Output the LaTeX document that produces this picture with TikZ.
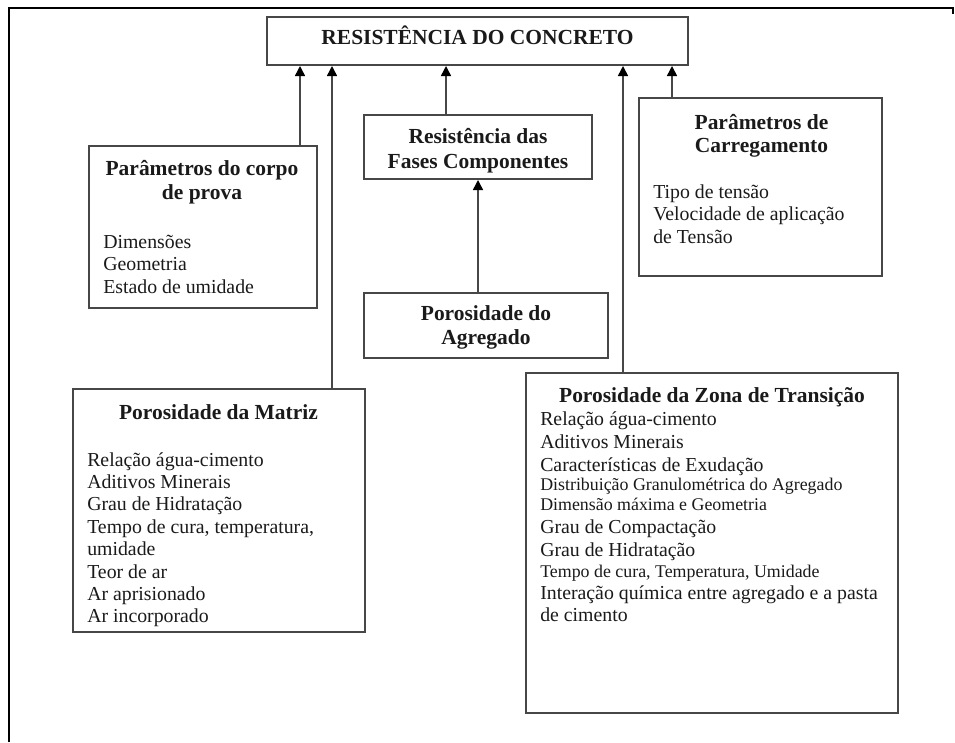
\documentclass[tikz,border=0pt]{standalone}
\usepackage{fontspec}
\setmainfont{Liberation Serif}
\usetikzlibrary{fit,arrows.meta}
\definecolor{boxc}{HTML}{474747}
\definecolor{txtc}{HTML}{1A1A1A}
\newcommand{\hdfont}{\fontsize{16.1}{18}\selectfont\bfseries}
\newcommand{\bdfont}{\fontsize{14.85}{17}\selectfont}
\newcommand{\smfont}{\fontsize{13.4}{15}\selectfont}
\begin{document}
\begin{tikzpicture}[x=0.75pt,y=-0.75pt,
  boxn/.style={draw=boxc,line width=1.5pt,inner sep=0pt},
  hd/.style={font=\hdfont,text=txtc,inner sep=0pt,anchor=base},
  bd/.style={font=\bdfont,text=txtc,inner sep=0pt,anchor=base west},
  sm/.style={font=\smfont,text=txtc,inner sep=0pt,anchor=base west},
  arr/.style={draw=boxc,line width=1.1pt,-{Triangle[width=7.5pt,length=7.5pt,color=black]}}]
\useasboundingbox (0,0) rectangle (955,742);
\fill[white] (0,0) rectangle (955,742);
% outer frame
\draw[line width=1.9pt] (9,742) -- (9,8) -- (953,8) -- (953,14);

% boxes
\node[boxn,fit={(267,17)(688,65)}] (top) {};
\node[boxn,fit={(89,146)(317,308)}] (pcp) {};
\node[boxn,fit={(639,98)(882,276)}] (carr) {};
\node[boxn,fit={(364,115)(592,179)}] (fases) {};
\node[boxn,fit={(364,293)(608,358)}] (agr) {};
\node[boxn,fit={(73,389)(365,632)}] (matriz) {};
\node[boxn,fit={(526,373)(898,713)}] (zona) {};

% connectors
\draw[arr] (pcp.north -| 300,0) -- (top.south -| 300,0);
\draw[arr] (matriz.north -| 332,0) -- (top.south -| 332,0);
\draw[arr] (fases.north -| 446,0) -- (top.south -| 446,0);
\draw[arr] (zona.north -| 623,0) -- (top.south -| 623,0);
\draw[arr] (carr.north -| 672,0) -- (top.south -| 672,0);
\draw[arr] (agr.north -| 478,0) -- (fases.south -| 478,0);

% title
\node[hd] (ttop) at (477.5,45) {RESISTÊNCIA DO CONCRETO};

% Parametros do corpo de prova
\node[hd] (tpcp1) at (202,175) {Parâmetros do corpo};
\node[hd] (tpcp2) at (202,199) {de prova};
\node[bd] (bpcp1) at (103,248) {Dimensões};
\node[bd] (bpcp2) at (103,270.5) {Geometria};
\node[bd] (bpcp3) at (103,293) {Estado de umidade};

% Parametros de carregamento
\node[hd] (tcar1) at (761.5,129) {Parâmetros de};
\node[hd] (tcar2) at (761.5,152) {Carregamento};
\node[bd] (bcar1) at (653,198) {Tipo de tensão};
\node[bd] (bcar2) at (653,220.5) {Velocidade de aplicação};
\node[bd] (bcar3) at (653,243) {de Tensão};

% Fases
\node[hd] (tfas1) at (478,143) {Resistência das};
\node[hd] (tfas2) at (478,168) {Fases Componentes};

% Agregado
\node[hd] (tagr1) at (486,320) {Porosidade do};
\node[hd] (tagr2) at (486,344) {Agregado};

% Matriz
\node[hd] (tmat) at (218.5,419) {Porosidade da Matriz};
\foreach \t [count=\i] in {Relação água-cimento,Aditivos Minerais,Grau de Hidratação,{Tempo de cura, temperatura,},umidade,Teor de ar,Ar aprisionado,Ar incorporado}
  \node[bd] (bmat\i) at (87,{466+22.4*(\i-1)}) {\t};

% Zona de transicao
\node[hd] (tzon) at (712,402) {Porosidade da Zona de Transição};
\node[bd] (bz1) at (540,425) {Relação água-cimento};
\node[bd] (bz2) at (540,448) {Aditivos Minerais};
\node[bd] (bz3) at (540,471) {Características de Exudação};
\node[sm] (bz4) at (540,490.5) {Distribuição Granulométrica do Agregado};
\node[sm] (bz5) at (540,510.5) {Dimens\~ao m\'axima e Geometria};
\node[bd] (bz6) at (540,533) {Grau de Compactação};
\node[bd] (bz7) at (540,556) {Grau de Hidratação};
\node[sm] (bz8) at (540,577.5) {Tempo de cura, Temperatura, Umidade};
\node[bd] (bz9) at (540,599) {Interação química entre agregado e a pasta};
\node[bd] (bz10) at (540,621) {de cimento};
\end{tikzpicture}
\end{document}
